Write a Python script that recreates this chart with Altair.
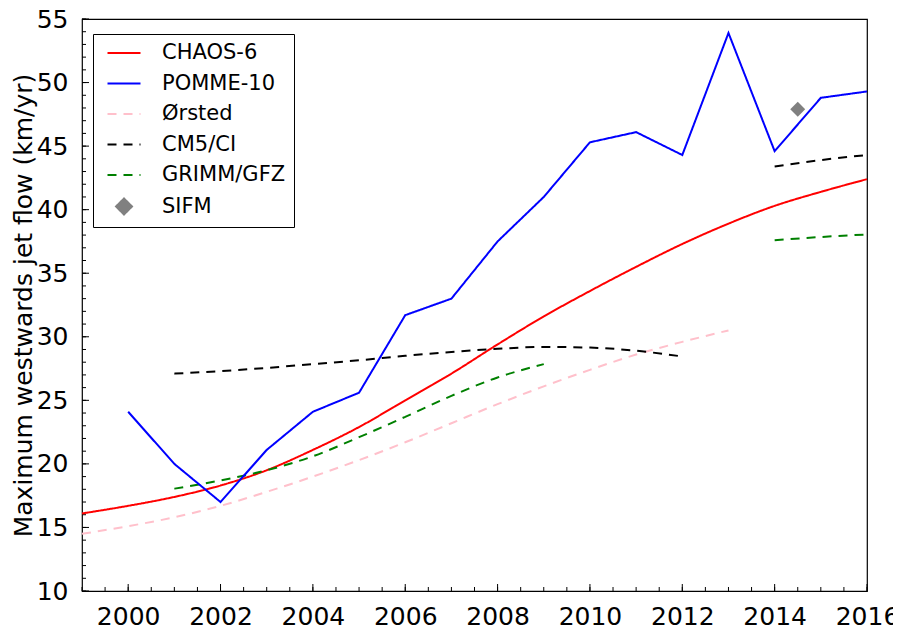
import altair as alt
import pandas as pd

# ---------------- data ----------------
series_names = ["CHAOS-6", "POMME-10", "Ørsted", "CM5/CI", "GRIMM/GFZ", "SIFM"]
series_colors = ["#ff0000", "#0000ff", "#ffc0cb", "#000000", "#008000", "#808080"]

chaos_years = list(range(1999, 2017))
chaos_vals = [16.1, 16.7, 17.4, 18.3, 19.5, 21.1, 22.9, 25.0, 27.1, 29.4,
              31.6, 33.6, 35.5, 37.3, 38.9, 40.3, 41.4, 42.4]

pomme_years = list(range(2000, 2017))
pomme_vals = [24.1, 20.0, 17.0, 21.1, 24.1, 25.6, 31.7, 33.0, 37.5, 41.0,
              45.3, 46.1, 44.3, 53.9, 44.6, 48.8, 49.3]

orsted_years = list(range(1999, 2014))
orsted_vals = [14.5, 15.1, 15.8, 16.7, 17.8, 19.0, 20.3, 21.7, 23.2, 24.7,
               26.1, 27.4, 28.6, 29.6, 30.5]

cm5_years_a = list(range(2001, 2013))
cm5_vals_a = [27.1, 27.3, 27.55, 27.85, 28.15, 28.5, 28.8, 29.05, 29.2, 29.15, 28.9, 28.45]
cm5_years_b = [2014, 2015, 2016]
cm5_vals_b = [43.4, 43.9, 44.3]

grimm_years_a = list(range(2001, 2010))
grimm_vals_a = [18.05, 18.7, 19.5, 20.6, 22.1, 23.7, 25.35, 26.8, 27.85]
grimm_years_b = [2014, 2015, 2016]
grimm_vals_b = [37.6, 37.85, 38.05]

sifm_years = [2014.5]
sifm_vals = [47.9]

x_major = [2000, 2002, 2004, 2006, 2008, 2010, 2012, 2014, 2016]
x_minor = [1999 + 0.5 * i for i in range(35)]
y_major = [10, 15, 20, 25, 30, 35, 40, 45, 50, 55]
y_minor = list(range(10, 56))

# ---------------- tables ----------------
rows = []
def add(name, seg, xs, ys):
    for x, y in zip(xs, ys):
        rows.append({"series": name, "seg": seg, "year": x, "value": y})

add("CHAOS-6", "a", chaos_years, chaos_vals)
add("POMME-10", "a", pomme_years, pomme_vals)
add("Ørsted", "a", orsted_years, orsted_vals)
add("CM5/CI", "a", cm5_years_a, cm5_vals_a)
add("CM5/CI", "b", cm5_years_b, cm5_vals_b)
add("GRIMM/GFZ", "a", grimm_years_a, grimm_vals_a)
add("GRIMM/GFZ", "b", grimm_years_b, grimm_vals_b)
df = pd.DataFrame(rows)
df_sifm = pd.DataFrame({"series": ["SIFM"] * len(sifm_years), "year": sifm_years, "value": sifm_vals})

W, H = 785, 572
FONT = "DejaVu Sans"

xscale = alt.Scale(domain=[1999, 2016], nice=False, zero=False)
yscale = alt.Scale(domain=[10, 55], nice=False, zero=False)

xaxis = alt.Axis(values=x_major, format="d", ticks=False, tickSize=0, domain=False, grid=False,
                 labelFont=FONT, labelFontSize=25, labelColor="black", labelPadding=13,
                 title=None, labelFlush=False)
yaxis = alt.Axis(values=y_major, format="d", ticks=False, tickSize=0, domain=False, grid=False,
                 labelFont=FONT, labelFontSize=25, labelColor="black", labelPadding=14,
                 title="Maximum westwards jet flow (km/yr)", titleFont=FONT, titleFontSize=25,
                 titleFontWeight="normal", titleColor="black",
                 titleX=-46, titleY=H / 2, titleAlign="center", titleBaseline="bottom",
                 titleAngle=270, labelFlush=False)

legend = alt.Legend(title=None, orient="none", legendX=11, legendY=15,
                    strokeColor="black", fillColor="white", padding=8, cornerRadius=0,
                    labelFont=FONT, labelFontSize=21, labelColor="black", labelOffset=27,
                    symbolSize=400, symbolOffset=12, symbolStrokeWidth=2,
                    symbolFillColor="#808080", rowPadding=9.5, labelLimit=300)

line_path = "M-1.65,0H1.65"
diamond_path = "M0,-0.8L0.8,0L0,0.8L-0.8,0Z"
dash_range = [[1, 0], [1, 0], [9, 7], [9, 7], [9, 7], [1, 0]]
shape_range = [line_path] * 5 + [diamond_path]

color_enc = alt.Color("series:N", scale=alt.Scale(domain=series_names, range=series_colors), legend=legend)
dash_enc = alt.StrokeDash("series:N", scale=alt.Scale(domain=series_names, range=dash_range), legend=legend)
shape_enc = alt.Shape("series:N", scale=alt.Scale(domain=series_names, range=shape_range), legend=legend)

X = alt.X("year:Q", scale=xscale, axis=xaxis)
Y = alt.Y("value:Q", scale=yscale, axis=yaxis)

smooth = alt.Chart(df).transform_filter(
    alt.FieldOneOfPredicate(field="series", oneOf=["CHAOS-6", "Ørsted", "CM5/CI", "GRIMM/GFZ"])
).mark_line(strokeWidth=2, interpolate="monotone").encode(
    x=X, y=Y, color=color_enc, strokeDash=dash_enc, detail="seg:N",
    order=alt.Order("year:Q"))

pomme = alt.Chart(df).transform_filter(
    alt.FieldEqualPredicate(field="series", equal="POMME-10")
).mark_line(strokeWidth=2).encode(
    x=X, y=Y, color=color_enc, strokeDash=dash_enc, detail="seg:N",
    order=alt.Order("year:Q"))

sifm = alt.Chart(df_sifm).mark_point(filled=True, size=350, opacity=1, strokeWidth=0).encode(
    x=X, y=Y, color=color_enc, shape=shape_enc)

ymaj = alt.Chart(pd.DataFrame({"value": y_major})).mark_rule(color="black", strokeWidth=1).encode(
    y=Y, x=alt.value(0), x2=alt.value(7))
ymin = alt.Chart(pd.DataFrame({"value": y_minor})).mark_rule(color="black", strokeWidth=1).encode(
    y=Y, x=alt.value(0), x2=alt.value(4))
xmaj = alt.Chart(pd.DataFrame({"year": x_major})).mark_rule(color="black", strokeWidth=1).encode(
    x=X, y=alt.value(H), y2=alt.value(H - 7))
xmin = alt.Chart(pd.DataFrame({"year": x_minor})).mark_rule(color="black", strokeWidth=1).encode(
    x=X, y=alt.value(H), y2=alt.value(H - 4))

chart = alt.layer(ymin, ymaj, xmin, xmaj, smooth, pomme, sifm).properties(
    width=W, height=H,
    autosize=alt.AutoSizeParams(type="none"),
    padding={"left": 74, "top": 11, "right": 26, "bottom": 35},
    background="white",
).configure_view(stroke="black", strokeWidth=1.2)

chart.save("out.html", embed_options={"renderer": "svg", "actions": False})
